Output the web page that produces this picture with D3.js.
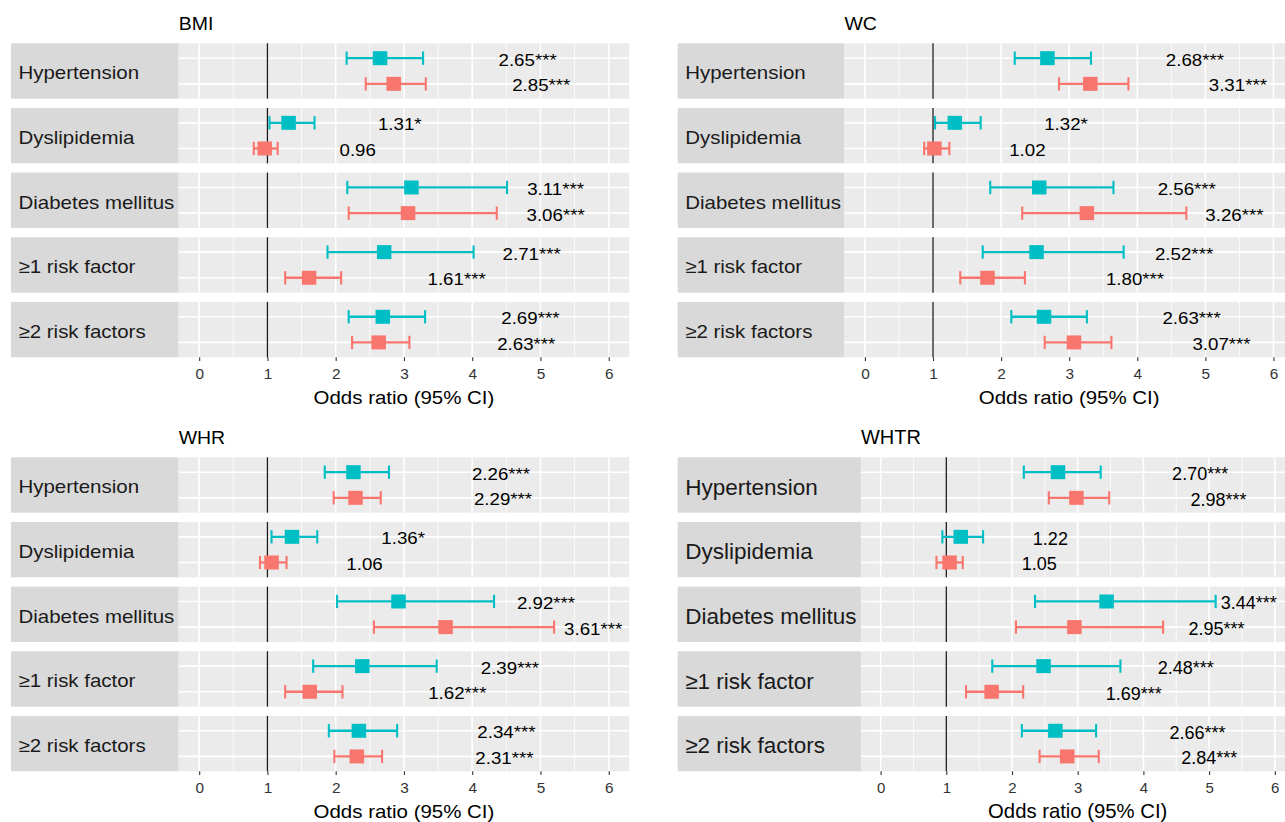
<!DOCTYPE html>
<html>
<head>
<meta charset="utf-8">
<script src="https://cdn.jsdelivr.net/npm/d3@7"></script>
<style>
  body { margin: 0; background: #fff; }
  svg { display: block; font-family: "Liberation Sans", Arial, sans-serif; }
</style>
</head>
<body>
<script>
(function(){

    //rows of every panel, top to bottom
    var categories = ["Hypertension", "Dyslipidemia", "Diabetes mellitus", "\u22651 risk factor", "\u22652 risk factors"];
    var groups = ["A", "B"]; //A = teal (upper), B = salmon (lower)
    var xTicks = [0, 1, 2, 3, 4, 5, 6];
    var panelTitles = ["BMI", "WC", "WHR", "WHTR"];

    //odds ratio and 95% CI: [OR, lower, upper]
    var bmiA = [[2.65, 2.16, 3.28], [1.31, 1.03, 1.69], [3.11, 2.17, 4.51], [2.71, 1.88, 4.02], [2.69, 2.19, 3.31]];
    var bmiB = [[2.85, 2.44, 3.32], [0.96, 0.80, 1.15], [3.06, 2.19, 4.36], [1.61, 1.26, 2.08], [2.63, 2.24, 3.08]];
    var wcA  = [[2.68, 2.20, 3.32], [1.32, 1.03, 1.70], [2.56, 1.84, 3.65], [2.52, 1.73, 3.80], [2.63, 2.15, 3.26]];
    var wcB  = [[3.31, 2.85, 3.87], [1.02, 0.87, 1.24], [3.26, 2.31, 4.72], [1.80, 1.40, 2.35], [3.07, 2.64, 3.62]];
    var whrA = [[2.26, 1.84, 2.78], [1.36, 1.06, 1.73], [2.92, 2.02, 4.32], [2.39, 1.67, 3.48], [2.34, 1.90, 2.90]];
    var whrB = [[2.29, 1.97, 2.66], [1.06, 0.89, 1.28], [3.61, 2.56, 5.20], [1.62, 1.26, 2.10], [2.31, 1.98, 2.68]];
    var whtrA = [[2.70, 2.18, 3.35], [1.22, 0.94, 1.56], [3.44, 2.35, 5.10], [2.48, 1.70, 3.65], [2.66, 2.15, 3.28]];
    var whtrB = [[2.98, 2.56, 3.48], [1.05, 0.85, 1.25], [2.95, 2.06, 4.30], [1.69, 1.30, 2.17], [2.84, 2.42, 3.32]];

    //significance marks
    var bmiStarsA  = ["***", "*", "***", "***", "***"];
    var bmiStarsB  = ["***", "",  "***", "***", "***"];
    var wcStarsA   = ["***", "*", "***", "***", "***"];
    var wcStarsB   = ["***", "",  "***", "***", "***"];
    var whrStarsA  = ["***", "*", "***", "***", "***"];
    var whrStarsB  = ["***", "",  "***", "***", "***"];
    var whtrStarsA = ["***", "",  "***", "***", "***"];
    var whtrStarsB = ["***", "",  "***", "***", "***"];

    var colors = {A: "#00BFC4", B: "#F8766D"};

    var width = 1285, height = 822;

    var svg = d3.select("body")
        .append("svg")
        .attr("width", width)
        .attr("height", height);

    //panel layout (the source figure was pasted together, so text is a bit stretched)
    var panels = [
        {title: panelTitles[0], a: bmiA, b: bmiB, sa: bmiStarsA, sb: bmiStarsB,
         stripX: 11, x0: 178.7, x1: 629.2, top: 0,
         sx: 1.1, stripFont: 18.6, titleFont: 17.7, labelFont: 17, tickFont: 14, axisFont: 18.6},
        {title: panelTitles[1], a: wcA, b: wcB, sa: wcStarsA, sb: wcStarsB,
         stripX: 677.7, x0: 844.5, x1: 1293.9, top: 0,
         sx: 1.1, stripFont: 18.6, titleFont: 17.7, labelFont: 17, tickFont: 14, axisFont: 18.6},
        {title: panelTitles[2], a: whrA, b: whrB, sa: whrStarsA, sb: whrStarsB,
         stripX: 11, x0: 178.7, x1: 629.2, top: 414,
         sx: 1.1, stripFont: 18.6, titleFont: 17.7, labelFont: 17, tickFont: 14, axisFont: 18.6},
        {title: panelTitles[3], a: whtrA, b: whtrB, sa: whtrStarsA, sb: whtrStarsB,
         stripX: 677.7, x0: 860.9, x1: 1294.5, top: 414,
         sx: 1.0, stripFont: 22.5, titleFont: 20, labelFont: 18, tickFont: 15, axisFont: 20.3}
    ];

    panels.forEach(drawPanel);

    //place a text horizontally stretched by sx
    function placeText(sel, x, y, sx){
        sel.attr("transform", "translate(" + x + "," + y + ") scale(" + sx + ",1)");
    }

    function drawPanel(p){
        var g = svg.append("g").attr("class", "panel");

        var x = d3.scaleLinear()
            .domain([-0.3, 6.3])
            .range([p.x0, p.x1]);

        var rows = d3.scaleBand()
            .domain(categories)
            .range([p.top + 43.3, p.top + 357.3])
            .paddingInner(0.143)
            .paddingOuter(0);

        var inner = d3.scalePoint()
            .domain(groups)
            .range([0, rows.bandwidth()])
            .padding(0.58);

        var bw = rows.bandwidth();

        //title
        var title = g.append("text")
            .attr("font-size", p.titleFont)
            .attr("fill", "#000")
            .text(p.title);
        placeText(title, p.x0, p.top + 30, p.sx);

        //one facet row per category
        var row = g.selectAll(".row")
            .data(categories)
            .enter()
            .append("g")
            .attr("class", "row")
            .attr("transform", function(d){ return "translate(0," + rows(d) + ")"; });

        //strip
        row.append("rect")
            .attr("x", p.stripX)
            .attr("width", p.x0 - p.stripX)
            .attr("height", bw)
            .attr("fill", "#D9D9D9");

        row.append("text")
            .attr("font-size", p.stripFont)
            .attr("fill", "#1A1A1A")
            .text(function(d){ return d; })
            .each(function(){
                placeText(d3.select(this), p.stripX + 7.5, bw / 2 + 0.36 * p.stripFont + 1.7, p.sx);
            });

        //panel background
        row.append("rect")
            .attr("x", p.x0)
            .attr("width", p.x1 - p.x0)
            .attr("height", bw)
            .attr("fill", "#EBEBEB");

        //minor grid
        var minorTicks = d3.range(0.5, 6, 1);
        row.selectAll(".minor")
            .data(minorTicks)
            .enter()
            .append("line")
            .attr("x1", function(d){ return x(d); })
            .attr("x2", function(d){ return x(d); })
            .attr("y1", 0)
            .attr("y2", bw)
            .attr("stroke", "#fff")
            .attr("stroke-width", 0.8);

        //major grid
        row.selectAll(".major")
            .data(xTicks)
            .enter()
            .append("line")
            .attr("x1", function(d){ return x(d); })
            .attr("x2", function(d){ return x(d); })
            .attr("y1", 0)
            .attr("y2", bw)
            .attr("stroke", "#fff")
            .attr("stroke-width", 1.6);

        row.selectAll(".hgrid")
            .data(groups)
            .enter()
            .append("line")
            .attr("x1", p.x0)
            .attr("x2", p.x1)
            .attr("y1", function(d){ return inner(d); })
            .attr("y2", function(d){ return inner(d); })
            .attr("stroke", "#fff")
            .attr("stroke-width", 1.6);

        //reference line at OR = 1
        row.append("line")
            .attr("x1", x(1))
            .attr("x2", x(1))
            .attr("y1", 0)
            .attr("y2", bw)
            .attr("stroke", "#1A1A1A")
            .attr("stroke-width", 1.3);

        //estimates
        var capH = 13.3, boxW = 14.5, boxH = 14;
        row.each(function(cat, i){
            var r = d3.select(this);
            groups.forEach(function(grp){
                var vals = grp === "A" ? p.a[i] : p.b[i];
                var stars = grp === "A" ? p.sa[i] : p.sb[i];
                var y = inner(grp);
                var col = colors[grp];

                r.append("line")
                    .attr("x1", x(vals[1])).attr("x2", x(vals[2]))
                    .attr("y1", y).attr("y2", y)
                    .attr("stroke", col).attr("stroke-width", 2.3);
                [vals[1], vals[2]].forEach(function(v){
                    r.append("line")
                        .attr("x1", x(v)).attr("x2", x(v))
                        .attr("y1", y - capH / 2).attr("y2", y + capH / 2)
                        .attr("stroke", col).attr("stroke-width", 2.1);
                });
                r.append("rect")
                    .attr("x", x(vals[0]) - boxW / 2)
                    .attr("y", y - boxH / 2)
                    .attr("width", boxW)
                    .attr("height", boxH)
                    .attr("fill", col);

                //label, pushed right by twice its width (hjust = -2)
                var lab = r.append("text")
                    .attr("font-size", p.labelFont)
                    .attr("fill", "#000")
                    .text(vals[0].toFixed(2) + stars);
                var w = lab.node().getComputedTextLength() * p.sx;
                placeText(lab, x(vals[0]) + 2 * w + 2, y + 0.36 * p.labelFont + 1.5, p.sx);
            });
        });

        //x axis
        var bottom = p.top + 357.3;
        var xAxis = d3.axisBottom(x)
            .tickValues(xTicks)
            .tickSize(3.7)
            .tickFormat(d3.format("d"));

        var axis = g.append("g")
            .attr("class", "axis")
            .attr("transform", "translate(0," + bottom + ")")
            .call(xAxis);
        axis.select(".domain").remove();
        axis.selectAll("line").attr("stroke", "#333").attr("stroke-width", 1.1);
        axis.selectAll("text")
            .attr("font-family", "Liberation Sans, Arial, sans-serif")
            .attr("font-size", p.tickFont)
            .attr("fill", "#333")
            .attr("y", 22)
            .attr("dy", 0)
            .attr("transform", "scale(" + p.sx + ",1)");

        var axisTitle = g.append("text")
            .attr("font-size", p.axisFont)
            .attr("fill", "#000")
            .attr("text-anchor", "middle")
            .text("Odds ratio (95% CI)");
        placeText(axisTitle, (p.x0 + p.x1) / 2, p.top + 404.3, p.sx);
    }
})();
</script>
</body>
</html>
